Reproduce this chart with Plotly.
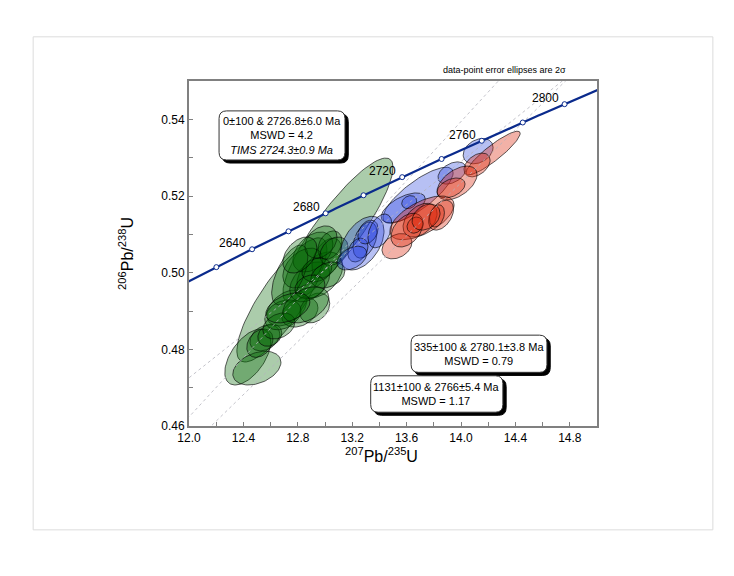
import numpy as np
import plotly.graph_objects as go

# decay constants (per year) for the concordia
L238 = 1.55125e-10
L235 = 9.8485e-10

# concordia age marks (Ma) and labelled ones
tick_ages = [2620, 2640, 2660, 2680, 2700, 2720, 2740, 2760, 2780, 2800]
label_ages = [2640, 2680, 2720, 2760, 2800]

# discordia lines: lower / upper intercept ages (Ma)
disc_lower = [0, 335, 1131]
disc_upper = [2726.8, 2780.1, 2766]

# error ellipses (2 sigma): centre, half-widths, correlation
green_x = [13.095, 12.683, 12.432, 12.499, 12.558, 12.521, 12.594, 12.719, 12.815, 12.925, 12.690, 12.661,
           12.962, 12.888, 13.014, 12.911, 12.837, 12.741, 13.036, 12.970, 13.066, 12.940, 13.021, 12.889,
           12.815, 12.859, 12.727]
green_y = [0.5111, 0.4929, 0.4780, 0.4751, 0.4830, 0.4816, 0.4837, 0.4908, 0.4897, 0.4908, 0.4890, 0.4861,
           0.4994, 0.4976, 0.5038, 0.5054, 0.5012, 0.4994, 0.5072, 0.5080, 0.5056, 0.5007, 0.4994, 0.4963,
           0.5046, 0.4916, 0.4908]
green_sx = [0.405, 0.331, 0.169, 0.177, 0.110, 0.096, 0.088, 0.147, 0.133, 0.110, 0.133, 0.118,
            0.169, 0.147, 0.110, 0.147, 0.147, 0.133, 0.088, 0.118, 0.103, 0.110, 0.125, 0.110,
            0.125, 0.169, 0.162]
green_sy = [0.0188, 0.0162, 0.0073, 0.0044, 0.0034, 0.0037, 0.0029, 0.0047, 0.0039, 0.0039, 0.0039, 0.0034,
            0.0060, 0.0052, 0.0052, 0.0052, 0.0052, 0.0078, 0.0037, 0.0042, 0.0037, 0.0031, 0.0034, 0.0031,
            0.0047, 0.0047, 0.0039]
green_rho = [0.87, 0.82, 0.55, 0.35, 0.3, 0.3, 0.2, 0.4, 0.3, 0.3, 0.3, 0.3,
             0.4, 0.4, 0.4, 0.4, 0.4, 0.6, 0.3, 0.3, 0.3, 0.2, 0.3, 0.2,
             0.4, 0.4, 0.4]

blue_x = [13.684, 13.575, 13.619, 14.126, 13.934, 13.272, 13.294, 13.242, 13.316, 13.198, 13.404]
blue_y = [0.5202, 0.5169, 0.5184, 0.5317, 0.5260, 0.5077, 0.5085, 0.5059, 0.5106, 0.5038, 0.5109]
blue_sx = [0.258, 0.162, 0.055, 0.110, 0.103, 0.162, 0.088, 0.074, 0.074, 0.110, 0.088]
blue_sy = [0.0073, 0.0039, 0.0017, 0.0033, 0.0029, 0.0070, 0.0047, 0.0031, 0.0031, 0.0031, 0.0044]
blue_rho = [0.8, 0.6, 0.2, 0.3, 0.4, 0.45, 0.4, 0.3, 0.3, 0.4, 0.4]

red_x = [14.236, 14.118, 13.971, 13.927, 13.713, 13.699, 13.529, 13.603, 13.853, 13.662, 13.823, 13.743]
red_y = [0.5312, 0.5281, 0.5234, 0.5221, 0.5143, 0.5137, 0.5069, 0.5111, 0.5150, 0.5124, 0.5148, 0.5145]
red_sx = [0.199, 0.096, 0.147, 0.103, 0.236, 0.125, 0.110, 0.118, 0.092, 0.059, 0.055, 0.103]
red_sy = [0.0057, 0.0031, 0.0044, 0.0026, 0.0057, 0.0044, 0.0033, 0.0044, 0.0039, 0.0021, 0.0029, 0.0034]
red_rho = [0.9, 0.4, 0.5, 0.4, 0.6, 0.4, 0.3, 0.4, 0.4, 0.2, 0.3, 0.3]

# result boxes: x0, x1, y0, y1 and text
box_x0 = [12.221, 13.633, 13.336]
box_x1 = [13.147, 14.632, 14.308]
box_y0 = [0.5294, 0.4740, 0.4636]
box_y1 = [0.5422, 0.4837, 0.4731]
box_text = ["0±100 &amp; 2726.8±6.0 Ma<br>MSWD = 4.2<br><i>TIMS 2724.3±0.9 Ma</i>",
            "335±100 &amp; 2780.1±3.8 Ma<br>MSWD = 0.79",
            "1131±100 &amp; 2766±5.4 Ma<br>MSWD = 1.17"]

FONT = "Liberation Sans, Arial"


def conc(age_ma):
    t = np.asarray(age_ma, dtype=float) * 1e6
    return np.exp(L235 * t) - 1, np.exp(L238 * t) - 1


def rounded(x0, x1, y0, y1, rx=0.055, ry=0.0020):
    return (f"M {x0+rx},{y0} L {x1-rx},{y0} Q {x1},{y0} {x1},{y0+ry} "
            f"L {x1},{y1-ry} Q {x1},{y1} {x1-rx},{y1} L {x0+rx},{y1} "
            f"Q {x0},{y1} {x0},{y1-ry} L {x0},{y0+ry} Q {x0},{y0} {x0+rx},{y0} Z")


fig = go.Figure()

# ellipses
t = np.linspace(0, 2 * np.pi, 90)
groups = [
    (green_x, green_y, green_sx, green_sy, green_rho, "rgba(0,100,0,0.33)"),
    (blue_x, blue_y, blue_sx, blue_sy, blue_rho, "rgba(30,60,220,0.32)"),
    (red_x, red_y, red_sx, red_sy, red_rho, "rgba(220,40,10,0.36)"),
]
for gx, gy, gsx, gsy, grho, col in groups:
    for cx, cy, sx, sy, r in zip(gx, gy, gsx, gsy, grho):
        ex = cx + sx * np.cos(t)
        ey = cy + sy * (r * np.cos(t) + np.sqrt(1 - r * r) * np.sin(t))
        fig.add_trace(go.Scatter(x=ex, y=ey, mode="lines", fill="toself", fillcolor=col,
                                 line=dict(color="rgba(0,0,0,0.7)", width=0.9),
                                 hoverinfo="skip", showlegend=False))

# discordia lines
for lo, up in zip(disc_lower, disc_upper):
    x0, y0 = conc(lo)
    x1, y1 = conc(up)
    s = (y1 - y0) / (x1 - x0)
    xs = np.array([11.0, 16.0])
    fig.add_trace(go.Scatter(x=xs, y=y0 + s * (xs - x0), mode="lines",
                             line=dict(color="#b4b4bc", width=0.8, dash="dot"),
                             hoverinfo="skip", showlegend=False))

# concordia
cx_, cy_ = conc(np.linspace(2590, 2830, 200))
fig.add_trace(go.Scatter(x=cx_, y=cy_, mode="lines", line=dict(color="#0a2a8c", width=2.2),
                         hoverinfo="skip", showlegend=False))
mx, my = conc(tick_ages)
fig.add_trace(go.Scatter(x=mx, y=my, mode="markers",
                         marker=dict(symbol="circle", size=5, color="white",
                                     line=dict(color="#0a2a8c", width=1)),
                         hoverinfo="skip", showlegend=False))
lx, ly = conc(label_ages)
for a, xx, yy in zip(label_ages, lx, ly):
    fig.add_annotation(x=xx, y=yy, text=str(a), showarrow=False, xanchor="right",
                       yanchor="middle", xshift=-4, yshift=6,
                       font=dict(family=FONT, size=12, color="black"))

# result boxes with drop shadow
for x0, x1, y0, y1, txt in zip(box_x0, box_x1, box_y0, box_y1, box_text):
    dx, dy = 0.024, -0.0008
    fig.add_shape(type="path", path=rounded(x0 + dx, x1 + dx, y0 + dy, y1 + dy),
                  fillcolor="black", line=dict(color="black", width=1))
    fig.add_shape(type="path", path=rounded(x0, x1, y0, y1),
                  fillcolor="white", line=dict(color="#333333", width=1))
    fig.add_annotation(x=(x0 + x1) / 2, y=(y0 + y1) / 2, text=txt, showarrow=False,
                       align="center", font=dict(family=FONT, size=11, color="black"))

fig.add_annotation(xref="paper", yref="paper", x=0.929, y=1.032, xanchor="right",
                   yanchor="middle", showarrow=False,
                   text="data-point error ellipses are 2σ",
                   font=dict(family=FONT, size=9, color="black"))

# x-axis title (slightly left of centre, as in the original)
fig.add_annotation(xref="paper", yref="paper", x=0.473, y=-0.084, yanchor="middle",
                   showarrow=False, text="<sup>207</sup>Pb/<sup>235</sup>U",
                   font=dict(family=FONT, size=16, color="black"))

# outer light frame
fig.add_shape(type="rect", xref="paper", yref="paper", x0=-0.382, x1=1.284, y0=-0.301, y1=1.128,
              line=dict(color="#dcdcdc", width=1), layer="below")

fig.update_layout(
    width=726, height=568,
    margin=dict(l=181, r=137, t=73, b=150),
    paper_bgcolor="white", plot_bgcolor="white",
    font=dict(family=FONT, size=12, color="black"),
    xaxis=dict(range=[12.0, 15.0], tickvals=[12.0, 12.4, 12.8, 13.2, 13.6, 14.0, 14.4, 14.8],
               tickformat=".1f", ticks="inside", ticklen=4, tickcolor="#808080",
               minor=dict(dtick=0.2, ticks="inside", ticklen=4, tickcolor="#808080"),
               showgrid=False, zeroline=False, showline=True, linecolor="#808080", linewidth=2,
               mirror=True),
    yaxis=dict(range=[0.46, 0.55], tickvals=[0.46, 0.48, 0.50, 0.52, 0.54],
               tickformat=".2f", ticks="inside", ticklen=4, tickcolor="#808080",
               minor=dict(dtick=0.01, ticks="inside", ticklen=4, tickcolor="#808080"),
               showgrid=False, zeroline=False, showline=True, linecolor="#808080", linewidth=2,
               mirror=True,
               title=dict(text="<sup>206</sup>Pb/<sup>238</sup>U", font=dict(size=16), standoff=24)),
)

fig.write_html("out.html")
